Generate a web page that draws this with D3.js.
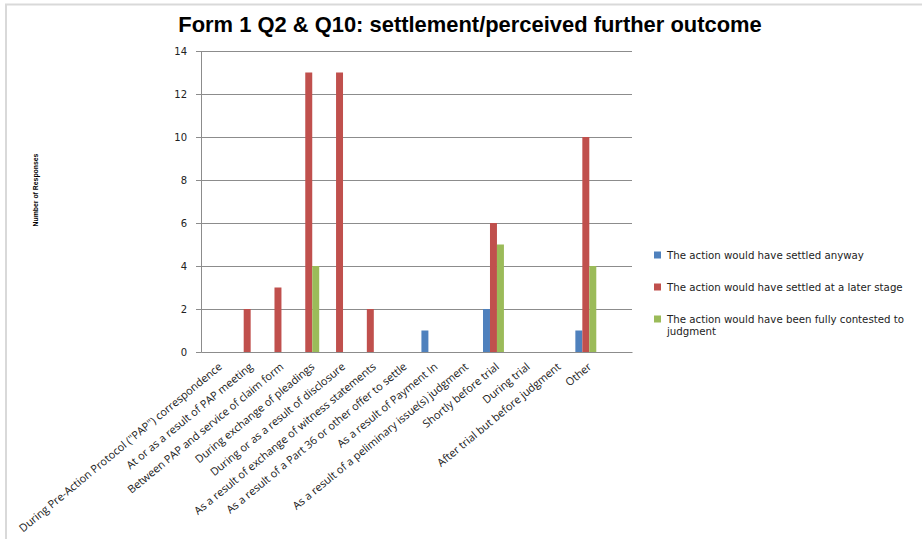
<!DOCTYPE html>
<html><head><meta charset="utf-8">
<script src="https://cdn.jsdelivr.net/npm/d3@7"></script>
<style>
html,body{margin:0;padding:0;background:#fff;}
svg{display:block;}
</style></head>
<body>
<svg id="chart" width="922" height="539"></svg>
<script>
const categories = [
  'During Pre-Action Protocol ("PAP") correspondence',
  'At or as a result of PAP meeting',
  'Between PAP and service of claim form',
  'During exchange of pleadings',
  'During or as a result of disclosure',
  'As a result of exchange of witness statements',
  'As a result of a Part 36 or other offer to settle',
  'As a result of Payment  In',
  'As a result of a peliminary issue(s) judgment',
  'Shortly before trial',
  'During trial',
  'After trial but before judgment',
  'Other',
  ''
];
const seriesNames = [
  'The action would have settled anyway',
  'The action would have settled at a later stage',
  'The action would have been fully contested to judgment'
];
const settledAnyway   = [0, 0, 0, 0, 0, 0, 0, 1, 0, 2, 0, 0, 1, 0];
const settledLater    = [0, 2, 3, 13, 13, 2, 0, 0, 0, 6, 0, 0, 10, 0];
const fullyContested  = [0, 0, 0, 4, 0, 0, 0, 0, 0, 5, 0, 0, 4, 0];
const yTicks = [0, 2, 4, 6, 8, 10, 12, 14];
const colors = ['#4F81BD', '#C0504D', '#9BBB59'];
const title = 'Form 1 Q2 & Q10: settlement/perceived further outcome';
const yTitle = 'Number of Responses';

const seriesValues = [settledAnyway, settledLater, fullyContested];
const svg = d3.select('#chart');

// chart frame
svg.append('rect').attr('x', 6).attr('y', 4.5).attr('width', 930).attr('height', 560)
  .attr('fill', 'none').attr('stroke', '#d9d9d9').attr('stroke-width', 2);

function fit(sel, target) {
  const w = sel.node().getComputedTextLength();
  const fs = parseFloat(sel.attr('font-size'));
  sel.attr('font-size', fs * target / w);
}

const plot = {left: 201, right: 632, top: 51, bottom: 352};

const x0 = d3.scaleBand().domain(d3.range(categories.length))
  .range([plot.left, plot.right]).paddingInner(0.32).paddingOuter(0.16);
const x1 = d3.scaleBand().domain(d3.range(seriesNames.length))
  .range([0, x0.bandwidth()]);
const y = d3.scaleLinear().domain([0, 14]).range([plot.bottom, plot.top]);

// gridlines
svg.append('g').selectAll('line').data(yTicks.filter(d => d > 0)).join('line')
  .attr('x1', plot.left).attr('x2', plot.right)
  .attr('y1', d => y(d)).attr('y2', d => y(d))
  .attr('stroke', '#8c8c8c').attr('stroke-width', 1).attr('shape-rendering', 'crispEdges');

// y axis
const yAxis = svg.append('g').attr('transform', `translate(${plot.left},0)`)
  .call(d3.axisLeft(y).tickValues(yTicks).tickSize(5).tickPadding(9).tickFormat(d3.format('d')));
yAxis.select('.domain').attr('stroke', '#8c8c8c');
yAxis.selectAll('.tick line').attr('stroke', '#8c8c8c');
yAxis.selectAll('.tick text').attr('font-family', 'DejaVu Sans, Verdana, sans-serif')
  .attr('font-size', 10).attr('fill', '#222');

// bars
const groups = svg.append('g').selectAll('g').data(categories).join('g')
  .attr('transform', (d, i) => `translate(${x0(i)},0)`);
groups.selectAll('rect').data((d, i) => seriesValues.map((s, k) => ({k, v: s[i]})))
  .join('rect')
  .filter(d => d.v > 0)
  .attr('x', d => x1(d.k)).attr('width', x1.bandwidth())
  .attr('y', d => y(d.v)).attr('height', d => y(0) - y(d.v))
  .attr('fill', d => colors[d.k]);

// x axis line
const xAxis = svg.append('g').attr('transform', `translate(0,${plot.bottom})`)
  .call(d3.axisBottom(x0).tickSize(0).tickFormat(''));
xAxis.select('.domain').attr('stroke', '#8c8c8c');
svg.append('line').attr('x1', plot.left - 5).attr('x2', plot.left)
  .attr('y1', plot.bottom + 0.5).attr('y2', plot.bottom + 0.5).attr('stroke', '#8c8c8c');

// x labels
const xl = svg.append('g').selectAll('text').data(categories).join('text')
  .attr('transform', (d, i) => `translate(${x0(i) + x0.bandwidth() / 2 + 4},${plot.bottom + 13}) rotate(-39.5)`)
  .attr('text-anchor', 'end')
  .attr('dy', '0.35em')
  .attr('font-family', 'Liberation Sans Narrow, Open Sans, sans-serif')
  .attr('font-size', 10)
  .attr('fill', '#222')
  .text(d => d);
{
  const first = xl.filter((d, i) => i === 0);
  const w = first.node().getComputedTextLength();
  xl.attr('font-size', 10 * 259 / w);
}

// title
const t = svg.append('text').attr('x', 470).attr('y', 32)
  .attr('text-anchor', 'middle')
  .attr('font-family', 'Liberation Sans Narrow, Liberation Sans, Arial, sans-serif')
  .attr('font-weight', 'bold').attr('font-size', 19).attr('fill', '#000')
  .text(title);
fit(t, 584);

// y title
const yt = svg.append('text')
  .attr('transform', 'translate(36,190) rotate(-90)')
  .attr('text-anchor', 'middle')
  .attr('dy', '0.35em')
  .attr('font-family', 'Liberation Sans Narrow, Liberation Sans, Arial, sans-serif')
  .attr('font-weight', 'bold').attr('font-size', 9).attr('fill', '#000')
  .text(yTitle);
fit(yt, 73);

// legend
const legendLines = [
  [seriesNames[0]],
  [seriesNames[1]],
  ['The action would have been fully contested to', 'judgment']
];
const legendY = [255, 287, 319];
const lg = svg.append('g');
legendLines.forEach((lines, k) => {
  lg.append('rect').attr('x', 654).attr('y', legendY[k] - 3.5).attr('width', 7).attr('height', 7)
    .attr('fill', colors[k]);
  lines.forEach((ln, j) => {
    lg.append('text').attr('class', 'lt').attr('x', 667).attr('y', legendY[k] + j * 12)
      .attr('dy', '0.35em')
      .attr('font-family', 'DejaVu Sans, Verdana, sans-serif')
      .attr('font-size', 9).attr('fill', '#222')
      .text(ln);
  });
});
{
  const ref = lg.selectAll('text.lt').filter((d, i) => i === 1);
  const w = ref.node().getComputedTextLength();
  lg.selectAll('text.lt').attr('font-size', 9 * 236 / w);
}
</script>
</body></html>
